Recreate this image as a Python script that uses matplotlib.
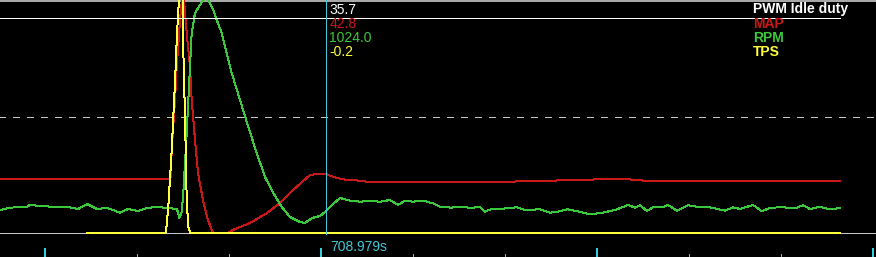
import matplotlib
matplotlib.use('Agg')
import matplotlib.pyplot as plt
import numpy as np

plt.rcParams['font.family'] = ['Liberation Sans', 'DejaVu Sans']

# log window: seconds since start of the visible window
view_start = 705.719
cursor_t = 3.26

names = ['PWM Idle duty', 'MAP', 'RPM', 'TPS']
colors = ['#ffffff', '#c81818', '#3cc83c', '#ffff3c']
# per-channel display ranges (lo, hi)
ranges = [(0, 38.7), (20, 110), (700, 3700), (0, 100)]
# values shown at the cursor
cursor_vals = [35.7, 42.8, 1024.0, -0.2]

pwm_t = [0.0, 8.40]
pwm_v = [35.7, 35.7]

map_t = [0.00, 0.22, 0.23, 1.70, 1.707, 1.717, 1.75, 1.767, 1.80, 1.82, 1.83, 1.84,
         1.867, 1.90, 1.917, 1.95, 1.98, 2.03, 2.08, 2.13, 2.28, 2.33, 2.50, 2.67,
         2.80, 2.93, 3.10, 3.18, 3.26, 3.33, 3.43, 3.53, 3.72, 5.15, 5.16, 5.56,
         5.57, 5.93, 5.94, 6.30, 6.31, 6.42, 6.43, 8.40]
map_v = [41.0, 41.0, 40.7, 40.7, 41.6, 52.1, 71.4, 84.1, 102.3, 110, 112, 110,
         97.3, 84.1, 71.4, 55.9, 43.2, 32.7, 25.0, 20.0, 20.0, 21.2, 23.9, 27.7,
         31.6, 36.6, 42.4, 42.8, 42.8, 41.7, 40.7, 40.5, 39.6, 39.6, 40.1, 40.1,
         40.5, 40.5, 40.9, 40.9, 40.4, 40.4, 40.1, 40.1]

rpm_t = [0.00, 0.10, 0.27, 0.30, 0.40, 0.57, 0.67, 0.78, 0.87, 0.97,
         1.07, 1.13, 1.20, 1.28, 1.38, 1.47, 1.57, 1.67, 1.77, 1.793,
         1.817, 1.833, 1.85, 1.867, 1.883, 1.90, 1.917, 1.95, 2.00, 2.033,
         2.06, 2.083, 2.133, 2.167, 2.217, 2.25, 2.317, 2.40, 2.483, 2.567,
         2.65, 2.733, 2.817, 2.90, 3.00, 3.05, 3.12, 3.20, 3.25, 3.30,
         3.40, 3.50, 3.60, 3.70, 3.80, 3.90, 3.98, 4.05, 4.13, 4.23,
         4.33, 4.40, 4.52, 4.57, 4.70, 4.80, 4.85, 4.92, 5.03, 5.17,
         5.25, 5.40, 5.50, 5.58, 5.67, 5.77, 5.90, 6.03, 6.17, 6.28,
         6.35, 6.40, 6.47, 6.53, 6.63, 6.68, 6.77, 6.88, 6.97, 7.10,
         7.25, 7.33, 7.40, 7.53, 7.62, 7.70, 7.83, 7.95, 8.03, 8.10,
         8.20, 8.28, 8.40]
rpm_v = [996, 1026, 1039, 1061, 1048, 1035, 1039, 1009, 1073, 1009,
         1022, 996, 961, 1009, 983, 1022, 1035, 1022, 1009, 893,
         970, 1215, 1601, 1988, 2413, 2837, 3275, 3533, 3636, 3700,
         3730, 3700, 3571, 3443, 3275, 3095, 2760, 2413, 2065, 1730,
         1421, 1215, 1035, 906, 842, 829, 893, 919, 970, 1039,
         1151, 1116, 1103, 1112, 1103, 1125, 1061, 1116, 1103, 1116,
         1082, 1039, 1026, 1039, 1026, 1031, 974, 1013, 1013, 1031,
         996, 1005, 961, 974, 1005, 983, 941, 961, 1005, 1061,
         1026, 1057, 983, 1031, 1031, 1061, 987, 1057, 1039, 1031,
         987, 1031, 1009, 1061, 979, 1026, 1031, 1018, 1057, 1009,
         1039, 1009, 1018]

tps_t = [0.87, 1.65, 1.66, 1.683, 1.717, 1.733, 1.75, 1.767, 1.783, 1.793,
         1.81, 1.827, 1.833, 1.85, 1.857, 1.867, 1.883, 1.907, 8.40]
tps_v = [-0.2, -0.2, 0.4, 11.2, 35.6, 49.8, 64.4, 82.8, 95.7, 100,
         104, 100, 78.5, 49.8, 35.6, 14.2, 2.6, -0.2, -0.2]

series_t = [pwm_t, map_t, rpm_t, tps_t]
series_v = [pwm_v, map_v, rpm_v, tps_v]


def norm(v, lo, hi):
    return (np.array(v, dtype=float) - lo) / (hi - lo)


W, H = 876, 257
fig = plt.figure(figsize=(W / 100, H / 100), dpi=100, facecolor='black')
ax = fig.add_axes([0, 0, 1, 1])
ax.set_facecolor('black')
ax.axis('off')
ax.set_xlim(0, 8.76)
ax.set_ylim(-24 / 233, 1)

# grid / frame
ax.axhline(0.5, color='#c8c8c8', lw=0.72, ls=(1, (6, 7)), antialiased=False)
ax.axhline(1.0, color='#a8a8a8', lw=1.5, antialiased=False)
ax.axhline(0.0, color='#c8c8c8', lw=0.72, antialiased=False)

# channels: MAP, RPM, TPS, then PWM
for i in [1, 2, 3, 0]:
    lo, hi = ranges[i]
    ax.plot(series_t[i], norm(series_v[i], lo, hi), color=colors[i], lw=0.72,
            antialiased=False)

# cursor
ax.vlines(cursor_t, -0.005, 1, color='#40c8d8', lw=0.72, antialiased=False)

# time ticks below the plot
ticks = np.arange(0.45, 8.76, 0.92)
for k, x in enumerate(ticks):
    if k % 3 == 0:
        ax.vlines(x, -24 / 233, -15 / 233, color='#30d0e0', lw=1.44, antialiased=False)
    else:
        ax.vlines(x, -24 / 233, -21 / 233, color='#30d0e0', lw=0.72, antialiased=False)

ax.text(cursor_t + 0.045, -18 / 233, '%.3fs' % (view_start + cursor_t),
        color='#40c8d8', fontsize=10, ha='left', va='baseline')

# readouts at the cursor and channel names
baselines = [13.5, 28, 42, 56]
for i in range(4):
    fig.text(329.5 / W, 1 - baselines[i] / H, '%.1f' % cursor_vals[i],
             color=colors[i], fontsize=10, ha='left', va='baseline')
    fig.text(753 / W, 1 - baselines[i] / H, names[i], color=colors[i],
             fontsize=10, fontweight='bold', ha='left', va='baseline')

fig.savefig('out.png', dpi=100, facecolor='black')
